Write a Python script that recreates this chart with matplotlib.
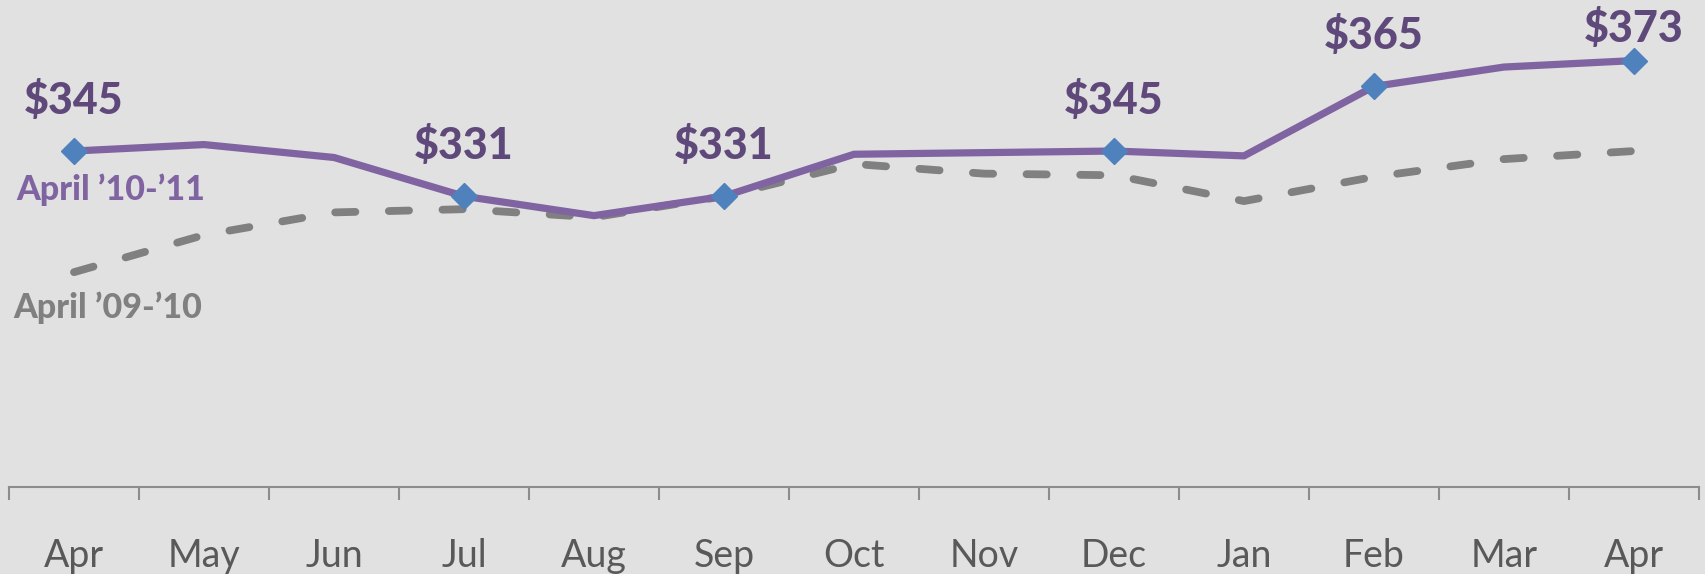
import matplotlib.pyplot as plt

# Datos
meses = ['Apr', 'May', 'Jun', 'Jul', 'Aug', 'Sep', 'Oct', 'Nov', 'Dec', 'Jan', 'Feb', 'Mar', 'Apr']
ventas_10_11 = [345, 347, 343, 331, 325, 331, 344, 344.5, 345, 343.5, 365, 371, 373]
ventas_09_10 = [307.5, 319, 326, 327, 324.5, 331, 341, 338, 337.5, 329.5, 337, 342.5, 345]
puntos_marcados = [0, 3, 5, 8, 10, 12]  # meses con etiqueta de valor
nombre_10_11 = 'April \u201910-\u201911'
nombre_09_10 = 'April \u201909-\u201910'

fondo = '#E1E1E1'
morado = '#8064A2'
morado_oscuro = '#5F497A'
azul = '#4F81BD'
gris = '#808080'
gris_eje = '#8C8C8C'

plt.rcParams['font.family'] = ['Lato', 'DejaVu Sans']

fig = plt.figure(figsize=(17.05, 5.74), dpi=100, facecolor=fondo)
ax = fig.add_axes([9 / 1705, 87 / 574, 1690 / 1705, 487 / 574])
ax.set_facecolor(fondo)

x = list(range(len(meses)))

# Linea del año anterior (discontinua)
lineaG, = ax.plot(x, ventas_09_10, color=gris, linewidth=5.6,
                  dash_capstyle='round', solid_joinstyle='round')
lineaG.set_dashes([2.6, 4.3])

# Linea del año actual
ax.plot(x, ventas_10_11, color=morado, linewidth=5.2, solid_joinstyle='round',
        marker='D', markersize=13.5, markerfacecolor=azul, markeredgecolor=azul,
        markevery=puntos_marcados)

# Etiquetas de valores
for n, i in enumerate(puntos_marcados):
    dy = 37 if n < len(puntos_marcados) - 1 else 19
    ax.annotate('$' + format(ventas_10_11[i], '.0f'), (x[i], ventas_10_11[i]),
                xytext=(0, dy), textcoords='offset pixels', ha='center', va='baseline',
                fontsize=31, fontweight='black', color=morado_oscuro)

# Nombres de las series
ax.annotate(nombre_10_11, (x[0], ventas_10_11[0]), xytext=(-58, -49),
            textcoords='offset pixels', ha='left', va='baseline',
            fontsize=24.5, fontweight='black', color=morado)
ax.annotate(nombre_09_10, (x[0], ventas_09_10[0]), xytext=(-61, -46),
            textcoords='offset pixels', ha='left', va='baseline',
            fontsize=24.5, fontweight='black', color=gris)

# Ejes
ax.set_xlim(-0.5, len(meses) - 0.5)
ax.set_ylim(241, 391.75)
ax.set_xticks(x)
ax.set_xticklabels(meses)
ax.set_xticks([i - 0.5 for i in range(len(meses) + 1)], minor=True)
ax.tick_params(axis='x', which='major', length=0, pad=37, labelsize=27, labelcolor='#595959')
ax.tick_params(axis='x', which='minor', length=9.4, width=1.5, color=gris_eje, direction='out')
ax.set_yticks([])
for lado in ['top', 'left', 'right']:
    ax.spines[lado].set_visible(False)
ax.spines['bottom'].set_color(gris_eje)
ax.spines['bottom'].set_linewidth(1.5)

fig.savefig('out.png', dpi=100, facecolor=fondo)
